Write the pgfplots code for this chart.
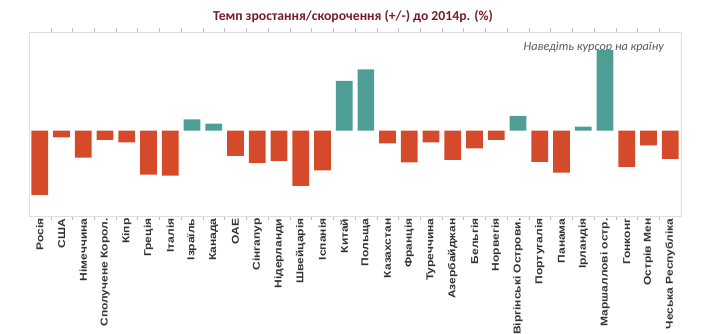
\documentclass[border=0pt]{standalone}
\usepackage{pgfplots}
\pgfplotsset{compat=1.18}
\usepackage{fontspec}
\setmainfont{Liberation Sans}
\newfontfamily\titlefont{Carlito}
\definecolor{negc}{RGB}{212,74,42}
\definecolor{posc}{RGB}{78,158,150}
\definecolor{titlec}{RGB}{120,30,40}
\definecolor{framec}{RGB}{222,222,222}
\definecolor{tickc}{RGB}{190,190,190}
\begin{document}
\begin{tikzpicture}
\useasboundingbox (-29pt,-118pt) rectangle (691pt,216pt);
\node[font=\titlefont\bfseries\fontsize{13.7}{15}\selectfont, text=titlec] at (324pt,199pt) {Темп зростання/скорочення (+/-) до 2014р. (\%)};
\node[font=\titlefont\itshape\fontsize{12.3}{14}\selectfont, text=black!65, anchor=east, inner sep=0pt] at (635pt,169pt) {Наведіть курсор на країну};
\begin{axis}[
  scale only axis, width=652pt, height=184pt,
  ybar, bar shift=0pt, bar width=0.77,
  xmin=-0.5, xmax=29.5, ymin=-85.3, ymax=98.7,
  axis line style={framec},
  ytick=\empty,
  xtick={0,...,29},
  xticklabels={Росія,США,Німеччина,Сполучене Корол.,Кіпр,Греція,Італія,Ізраїль,Канада,ОАЕ,Сінгапур,Нідерланди,Швейцарія,Іспанія,Китай,Польща,Казахстан,Франція,Туреччина,Азербайджан,Бельгія,Норвегія,Віргінські Острови.,Португалія,Панама,Ірландія,Маршаллові остр.,Гонконг,Острів Мен,Чеська Республіка},
  x tick label style={rotate=90, xscale=1.2, anchor=east, font=\bfseries\fontsize{10}{11}\selectfont, text=black!80, inner sep=2pt},
  major tick length=0pt,
  minor x tick num=1, minor tick length=4pt, tick align=outside,
  minor tick style={tickc},
  every tick/.style={tickc},
  clip=false,
]
\addplot[fill=negc, draw=none] coordinates {
(0,-64.3) (1,-6.6) (2,-27) (3,-9.3) (4,-11.7) (5,-44) (6,-45)
(9,-25.3) (10,-32.3) (11,-30.3) (12,-55.3) (13,-39.7)
(16,-12.7) (17,-31.7) (18,-11.7) (19,-29.3) (20,-17.7) (21,-9.3)
(23,-31.3) (24,-42) (27,-36.3) (28,-14.7) (29,-28.3)};
\addplot[fill=posc, draw=none] coordinates {
(7,11.3) (8,7) (14,49.7) (15,61.3) (22,14.7) (25,4) (26,80.7)};
\end{axis}
\end{tikzpicture}
\end{document}
